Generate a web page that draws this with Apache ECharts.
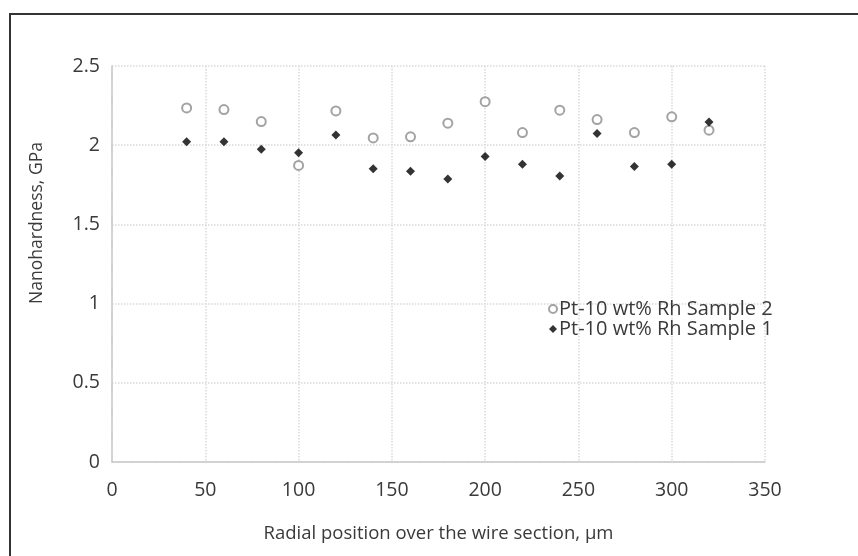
<!DOCTYPE html>
<html>
<head>
<meta charset="utf-8">
<script src="https://cdn.jsdelivr.net/npm/echarts@6/dist/echarts.min.js"></script>
<style>
  html, body { margin: 0; padding: 0; background: #fff; }
  #main { width: 858px; height: 556px; }
</style>
</head>
<body>
<div id="main"></div>
<script>
// radial positions, um
let positions = [40, 60, 80, 100, 120, 140, 160, 180, 200, 220, 240, 260, 280, 300, 320];
// nanohardness, GPa
let sample2 = [2.235, 2.225, 2.149, 1.872, 2.216, 2.046, 2.053, 2.139, 2.275, 2.080, 2.221, 2.162, 2.080, 2.179, 2.095];
let sample1 = [2.021, 2.021, 1.975, 1.952, 2.065, 1.851, 1.836, 1.786, 1.929, 1.880, 1.805, 2.074, 1.865, 1.880, 2.147];

let name2 = 'Pt-10 wt% Rh Sample 2';
let name1 = 'Pt-10 wt% Rh Sample 1';

function pairs(xs, ys) {
    return xs.map((x, i) => [x, ys[i]]);
}

let txt = '#3a3a3a';
let font = 'Open Sans';

let myChart = echarts.init(document.getElementById('main'));
let option = {
    backgroundColor: 'white',
    animation: false,
    textStyle: { fontFamily: font, color: txt },
    grid: { left: 112, right: 93, top: 66, bottom: 94 },
    graphic: [{
        type: 'rect',
        shape: { x: 10, y: 14, width: 1000, height: 1000 },
        style: { fill: 'none', stroke: '#333', lineWidth: 2 },
        silent: true
    }],
    legend: {
        orient: 'vertical',
        left: 543,
        top: 294,
        itemWidth: 8,
        itemHeight: 8,
        itemGap: 0,
        data: [name2, name1],
        textStyle: { fontFamily: font, fontSize: 20, color: txt, padding: [0, 0, 0, -3] }
    },
    xAxis: {
        type: 'value',
        min: 0,
        max: 350,
        interval: 50,
        name: 'Radial position over the wire section, \u03bcm',
        nameLocation: 'middle',
        nameGap: 62,
        nameTextStyle: { fontFamily: font, fontSize: 18.5, color: txt },
        axisLine: { show: true, lineStyle: { color: '#c8c8c8', width: 1.5 } },
        axisTick: { show: false },
        axisLabel: { fontFamily: font, fontSize: 19.5, color: txt, margin: 18 },
        splitLine: { show: true, lineStyle: { color: '#d9d9d9', type: 'dotted', width: 1.5 } }
    },
    yAxis: {
        type: 'value',
        min: 0,
        max: 2.5,
        interval: 0.5,
        name: 'Nanohardness, GPa',
        nameLocation: 'middle',
        nameGap: 66,
        nameTextStyle: { fontFamily: font, fontSize: 17.5, color: txt, padding: [0, 0, 0, 82] },
        axisLine: { show: true, lineStyle: { color: '#c8c8c8', width: 1.5 } },
        axisTick: { show: false },
        axisLabel: { fontFamily: font, fontSize: 19.5, color: txt, margin: 12 },
        splitLine: { show: true, lineStyle: { color: '#d9d9d9', type: 'dotted', width: 1.5 } }
    },
    series: [{
        name: name2,
        type: 'scatter',
        symbol: 'circle',
        symbolSize: 9,
        itemStyle: { color: '#fff', borderColor: '#8c8c8c', borderWidth: 2 },
        data: pairs(positions, sample2)
    }, {
        name: name1,
        type: 'scatter',
        symbol: 'diamond',
        symbolSize: 9,
        itemStyle: { color: '#000' },
        data: pairs(positions, sample1)
    }]
};
myChart.setOption(option);
</script>
</body>
</html>
